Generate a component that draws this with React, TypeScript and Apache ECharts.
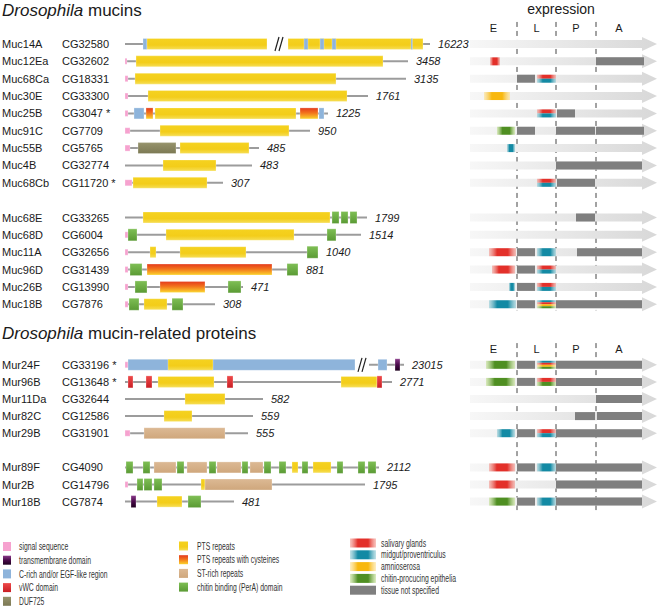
import React, { useEffect, useRef } from 'react';
import * as echarts from 'echarts';

// ---------------- Drosophila mucins ----------------
const mucinNames = ['Muc14A', 'Muc12Ea', 'Muc68Ca', 'Muc30E', 'Muc25B', 'Muc91C', 'Muc55B', 'Muc4B', 'Muc68Cb', 'Muc68E', 'Muc68D', 'Muc11A', 'Muc96D', 'Muc26B', 'Muc18B'];
const mucinIds = ['CG32580', 'CG32602', 'CG18331', 'CG33300', 'CG3047 *', 'CG7709', 'CG5765', 'CG32774', 'CG11720 *', 'CG33265', 'CG6004', 'CG32656', 'CG31439', 'CG13990', 'CG7876'];
const mucinLengths = ['16223', '3458', '3135', '1761', '1225', '950', '485', '483', '307', '1799', '1514', '1040', '881', '471', '308'];
const mucinRows = [0, 1, 2, 3, 4, 5, 6, 7, 8, 10, 11, 12, 13, 14, 15];
// [protein, start, end] backbone segments (diagram units)
const mucinLines = [
  [0, 0, 142], [0, 163, 305], [1, 0, 283], [2, 0, 281], [3, 0, 243], [4, 0, 203], [5, 0, 185], [6, 0, 134], [7, 0, 127], [8, 0, 98],
  [9, 0, 242], [10, 0, 236], [11, 0, 193], [12, 0, 173], [13, 0, 118], [14, 0, 90],
];
const mucinBreaks = [[0, 155]];
// [protein, start, end, domain]
const mucinDomains: [number, number, number, string][] = [
  [0, 18, 22, 'egf'], [0, 22, 142, 'pts'], [0, 163, 298, 'pts'], [0, 179, 183, 'egf'], [0, 195, 199, 'egf'], [0, 207, 211, 'egf'], [0, 286, 287.5, 'egf'],
  [1, 0, 2, 'sig'], [1, 11, 258, 'pts'],
  [2, 0, 3, 'sig'], [2, 10, 211, 'pts'],
  [3, 0, 3, 'sig'], [3, 23, 222, 'pts'],
  [4, 0, 3, 'sig'], [4, 9, 19, 'egf'], [4, 21, 28, 'ptsc'], [4, 30, 171, 'pts'], [4, 175, 193, 'ptsc'], [4, 194, 199, 'egf'],
  [5, 0, 5, 'sig'], [5, 35, 164, 'pts'],
  [6, 0, 5, 'sig'], [6, 13, 51, 'duf'], [6, 55, 124, 'pts'],
  [7, 38, 91, 'pts'],
  [8, 0, 7, 'sig'], [8, 8, 82, 'pts'],
  [9, 18, 205, 'pts'], [9, 207, 214, 'chitin'], [9, 216, 223, 'chitin'], [9, 225, 232, 'chitin'],
  [10, 0, 3, 'sig'], [10, 3, 12, 'chitin'], [10, 41, 169, 'pts'], [10, 202, 211, 'chitin'],
  [11, 0, 3, 'sig'], [11, 25, 31, 'pts'], [11, 55, 121, 'pts'], [11, 182, 193, 'chitin'],
  [12, 0, 3, 'sig'], [12, 5, 17, 'chitin'], [12, 22, 147, 'ptsc'], [12, 162, 173, 'chitin'],
  [13, 0, 3, 'sig'], [13, 10, 22, 'chitin'], [13, 35, 80, 'ptsc'], [13, 103, 116, 'chitin'],
  [14, 0, 3, 'sig'], [14, 4, 14, 'chitin'], [14, 19, 42, 'pts'], [14, 47, 58, 'chitin'],
];
// [protein, start, end, tissue(s)]
const mucinExpression: [number, number, number, string][] = [
  [1, 20, 30, 'red'], [1, 126, 174, 'gray'],
  [2, 47, 65, 'gray'], [2, 67, 86, 'red/teal'],
  [3, 14, 40, 'yellow'],
  [4, 67, 86, 'red/teal'], [4, 87, 105, 'gray'],
  [5, 27, 45, 'green'], [5, 47, 65, 'gray'], [5, 86, 125, 'gray'], [5, 126, 174, 'gray'],
  [6, 37, 45, 'teal'],
  [7, 86, 172, 'gray'],
  [8, 67, 86, 'red/teal'], [8, 87, 125, 'gray'],
  [9, 106, 125, 'gray'],
  [11, 19, 46, 'red'], [11, 47, 65, 'gray'], [11, 67, 86, 'teal'], [11, 107, 172, 'gray'],
  [12, 22, 45, 'red'], [12, 47, 65, 'gray'], [12, 67, 86, 'red/teal'],
  [13, 39, 45, 'teal'], [13, 47, 65, 'gray'], [13, 67, 86, 'red/teal'],
  [14, 19, 46, 'teal'], [14, 47, 65, 'gray'], [14, 67, 86, 'teal/red/yellow/green'], [14, 86, 172, 'gray'],
];

// ---------------- Drosophila mucin-related proteins ----------------
const murNames = ['Mur24F', 'Mur96B', 'Mur11Da', 'Mur82C', 'Mur29B', 'Mur89F', 'Mur2B', 'Mur18B'];
const murIds = ['CG33196 *', 'CG13648 *', 'CG32644', 'CG12586', 'CG31901', 'CG4090', 'CG14796', 'CG7874'];
const murLengths = ['23015', '2771', '582', '559', '555', '2112', '1795', '481'];
const murRows = [0, 1, 2, 3, 4, 6, 7, 8];
const murLines = [
  [0, 0, 230], [0, 244, 279], [1, 0, 267], [2, 0, 138], [3, 0, 128], [4, 0, 123], [5, 0, 254], [6, 0, 240], [7, 0, 109],
];
const murBreaks = [[0, 238]];
const murDomains: [number, number, number, string][] = [
  [0, 0, 3, 'sig'], [0, 3, 230, 'egf'], [0, 43, 88, 'pts'], [0, 253, 262, 'egf'], [0, 270, 275, 'tm'],
  [1, 3, 8, 'vwc'], [1, 21, 27, 'vwc'], [1, 33, 89, 'pts'], [1, 102, 108, 'vwc'], [1, 216, 252, 'pts'], [1, 252, 257, 'vwc'],
  [2, 60, 100, 'pts'],
  [3, 39, 67, 'pts'],
  [4, 0, 5, 'sig'], [4, 19, 100, 'st'],
  [5, 1, 8, 'chitin'], [5, 18, 25, 'chitin'], [5, 29, 51, 'st'], [5, 52, 59, 'chitin'], [5, 62, 82, 'st'], [5, 84, 91, 'chitin'], [5, 92, 116, 'st'],
  [5, 117, 123, 'chitin'], [5, 125, 138, 'st'], [5, 139, 146, 'chitin'], [5, 154, 161, 'chitin'], [5, 167, 173, 'pts'], [5, 177, 183, 'chitin'],
  [5, 188, 206, 'pts'], [5, 212, 218, 'chitin'], [5, 233, 240, 'chitin'], [5, 243, 251, 'chitin'],
  [6, 0, 3, 'sig'], [6, 12, 18, 'chitin'], [6, 19, 27, 'chitin'], [6, 29, 37, 'chitin'], [6, 76, 80, 'pts'], [6, 80, 147, 'st'],
  [7, 6, 11, 'tm'], [7, 32, 57, 'pts'], [7, 63, 76, 'chitin'],
];
const murExpression: [number, number, number, string][] = [
  [0, 16, 45, 'green'], [0, 47, 65, 'gray'], [0, 67, 86, 'teal/red/yellow/green'], [0, 86, 172, 'gray'],
  [1, 16, 45, 'green'], [1, 47, 65, 'gray'], [1, 67, 86, 'red/green'], [1, 86, 172, 'gray'],
  [2, 126, 172, 'gray'],
  [3, 105, 125, 'gray'], [3, 127, 172, 'gray'],
  [4, 27, 45, 'teal'], [4, 47, 65, 'gray'], [4, 67, 86, 'red/teal'], [4, 86, 172, 'gray'],
  [5, 19, 45, 'red'], [5, 47, 65, 'gray'], [5, 67, 86, 'teal'], [5, 86, 172, 'gray'],
  [6, 19, 45, 'red'], [6, 86, 172, 'gray'],
  [7, 19, 45, 'green'], [7, 47, 65, 'gray'], [7, 67, 86, 'teal'], [7, 86, 172, 'gray'],
];

// ---------------- Expression axis ----------------
const stageNames = ['E', 'L', 'P', 'A'];
const stageBounds = [0, 47, 86, 126, 172];
const arrowTip = 187;

// ---------------- Legends ----------------
const domainLegend = [
  ['sig', 'signal sequence'], ['tm', 'transmembrane domain'], ['egf', 'C-rich and/or EGF-like region'], ['vwc', 'vWC domain'], ['duf', 'DUF725'],
  ['pts', 'PTS repeats'], ['ptsc', 'PTS repeats with cysteines'], ['st', 'ST-rich repeats'], ['chitin', 'chitin binding (PerA) domain'],
];
const tissueLegend = [
  ['red', 'salivary glands'], ['teal', 'midgut/proventriculus'], ['yellow', 'amnioserosa'], ['green', 'chitin-procucing epithelia'], ['gray', 'tissue not specified'],
];

const SANS = "'Liberation Sans', Arial, sans-serif";

const vg = (stops: [number, string][]) =>
  new echarts.graphic.LinearGradient(0, 0, 0, 1, stops.map(([offset, color]) => ({ offset, color })));
const hg = (stops: [number, string][]) =>
  new echarts.graphic.LinearGradient(0, 0, 1, 0, stops.map(([offset, color]) => ({ offset, color })));

const domainStyles: Record<string, { h: number; fill: any }> = {
  sig: { h: 6, fill: '#f6a2cf' },
  tm: { h: 12, fill: vg([[0, '#8a3a8a'], [0.5, '#4a0a4a'], [1, '#1e001e']]) },
  egf: { h: 11, fill: '#8eb4db' },
  vwc: { h: 12, fill: vg([[0, '#ee4a4a'], [1, '#c91e24']]) },
  duf: { h: 11, fill: vg([[0, '#96936c'], [1, '#7c7954']]) },
  pts: { h: 11, fill: vg([[0, '#f5d21f'], [0.6, '#f3cd1a'], [1, '#f6de55']]) },
  ptsc: { h: 11, fill: vg([[0, '#e43a1c'], [0.45, '#f2731c'], [1, '#fbd42c']]) },
  st: { h: 11, fill: vg([[0, '#dcb994'], [1, '#cfa77c']]) },
  chitin: { h: 12, fill: vg([[0, '#7fbf55'], [1, '#5a9a34']]) },
};

const tissueColors: Record<string, [string, string]> = {
  red: ['#e3302a', 'rgba(243,150,140,0.55)'],
  teal: ['#138aa4', 'rgba(150,205,215,0.6)'],
  yellow: ['#f8b80f', 'rgba(253,226,150,0.6)'],
  green: ['#4f8f22', 'rgba(205,228,165,0.7)'],
};
const blob = (t: string) => {
  const [c, e] = tissueColors[t];
  return hg([[0, e], [0.3, c], [0.7, c], [1, e]]);
};

function panelSeries(
  names: string[], ids: string[], lengths: string[], rows: number[], lines: number[][], breaks: number[][],
  domains: [number, number, number, string][], expr: [number, number, number, string][],
  gi: number, dashTop: number, dashBottom: number,
) {
  const dAx = { xAxisIndex: gi * 2, yAxisIndex: gi * 2 };
  const eAx = { xAxisIndex: gi * 2 + 1, yAxisIndex: gi * 2 + 1 };
  const labelX = names.map((_, i) => Math.max(...lines.filter((l) => l[0] === i).map((l) => l[2])) + 8);
  const series: any[] = [];
  // backbone lines
  series.push({
    type: 'custom', ...dAx, silent: true,
    data: lines.map((l) => [l[1], l[2], rows[l[0]]]),
    encode: { x: [0, 1], y: 2 },
    renderItem: (_p: any, api: any) => {
      const a = api.coord([api.value(0), api.value(2)]);
      const b = api.coord([api.value(1), api.value(2)]);
      return { type: 'line', shape: { x1: a[0], y1: a[1], x2: b[0], y2: b[1] }, style: { stroke: '#9c9c9c', lineWidth: 2 } };
    },
  });
  // domains
  series.push({
    type: 'custom', ...dAx, silent: true,
    data: domains.map((d) => [d[1], d[2], rows[d[0]]]),
    encode: { x: [0, 1], y: 2 },
    renderItem: (p: any, api: any) => {
      const st = domainStyles[domains[p.dataIndex][3]];
      const a = api.coord([api.value(0), api.value(2)]);
      const b = api.coord([api.value(1), api.value(2)]);
      return {
        type: 'rect',
        shape: { x: a[0], y: a[1] - st.h / 2, width: Math.max(1, b[0] - a[0]), height: st.h },
        style: { fill: st.fill, stroke: 'rgba(255,255,255,0.45)', lineWidth: 0.6 },
      };
    },
  });
  // break marks
  series.push({
    type: 'custom', ...dAx, silent: true,
    data: breaks.map((b) => [b[1], rows[b[0]]]),
    encode: { x: 0, y: 1 },
    renderItem: (_p: any, api: any) => {
      const c = api.coord([api.value(0), api.value(1)]);
      const s = { stroke: '#222', lineWidth: 1.2 };
      return {
        type: 'group', children: [
          { type: 'line', shape: { x1: c[0] - 5, y1: c[1] + 7, x2: c[0] - 1, y2: c[1] - 7 }, style: s },
          { type: 'line', shape: { x1: c[0] - 1, y1: c[1] + 7, x2: c[0] + 3, y2: c[1] - 7 }, style: s },
        ],
      };
    },
  });
  // row texts
  series.push({
    type: 'custom', ...dAx, silent: true,
    data: names.map((_, i) => [labelX[i], rows[i]]),
    encode: { x: 0, y: 1 },
    renderItem: (p: any, api: any) => {
      const i = p.dataIndex;
      const c = api.coord([api.value(0), api.value(1)]);
      const base = { fontSize: 11, fontFamily: SANS, fill: '#1a1a1a', verticalAlign: 'middle', align: 'left' };
      return {
        type: 'group', children: [
          { type: 'text', x: 2, y: c[1], style: { ...base, text: names[i] } },
          { type: 'text', x: 62, y: c[1], style: { ...base, text: ids[i] } },
          { type: 'text', x: c[0], y: c[1], style: { ...base, fontStyle: 'italic', text: lengths[i] } },
        ],
      };
    },
  });
  // dashed stage dividers
  series.push({
    type: 'custom', ...eAx, silent: true,
    data: stageBounds.slice(1, 4).map((b) => [b, 0]),
    encode: { x: 0, y: 1 },
    renderItem: (_p: any, api: any) => {
      const a = api.coord([api.value(0), dashTop]);
      const b = api.coord([api.value(0), dashBottom]);
      return { type: 'line', shape: { x1: a[0], y1: a[1], x2: b[0], y2: b[1] }, style: { stroke: '#444', lineWidth: 1, lineDash: [5, 4] } };
    },
  });
  // stage labels
  series.push({
    type: 'custom', ...eAx, silent: true,
    data: stageNames.map((_, i) => [(stageBounds[i] + stageBounds[i + 1]) / 2, -0.93]),
    encode: { x: 0, y: 1 },
    renderItem: (p: any, api: any) => {
      const c = api.coord([api.value(0), api.value(1)]);
      return { type: 'text', x: c[0], y: c[1], style: { text: stageNames[p.dataIndex], fontSize: 11, fontFamily: SANS, fill: '#1a1a1a', align: 'center', verticalAlign: 'middle' } };
    },
  });
  // arrows
  series.push({
    type: 'custom', ...eAx, silent: true,
    data: rows.map((r) => [0, r]),
    encode: { x: 0, y: 1 },
    renderItem: (_p: any, api: any) => {
      const y = api.coord([0, api.value(1)])[1];
      const x0 = api.coord([stageBounds[0], 0])[0];
      const xh = api.coord([stageBounds[4], 0])[0];
      const xt = api.coord([arrowTip, 0])[0];
      return {
        type: 'polygon',
        shape: { points: [[x0, y - 4], [xh, y - 4], [xh, y - 7], [xt, y], [xh, y + 7], [xh, y + 4], [x0, y + 4]] },
        style: { fill: hg([[0, '#f7f7f7'], [1, '#d8d8d8']]) },
      };
    },
  });
  // expression bars
  series.push({
    type: 'custom', ...eAx, silent: true,
    data: expr.map((e) => [e[1], e[2], rows[e[0]]]),
    encode: { x: [0, 1], y: 2 },
    renderItem: (p: any, api: any) => {
      const kind = expr[p.dataIndex][3];
      const a = api.coord([api.value(0), api.value(2)]);
      const b = api.coord([api.value(1), api.value(2)]);
      const w = b[0] - a[0];
      if (kind === 'gray') {
        return { type: 'rect', shape: { x: a[0], y: a[1] - 4, width: w, height: 8 }, style: { fill: '#7f7f7f' } };
      }
      const parts = kind.split('/');
      const bh = 8 / parts.length;
      return {
        type: 'group',
        children: parts.map((t, k) => ({
          type: 'rect', shape: { x: a[0], y: a[1] - 4 + k * bh, width: w, height: bh }, style: { fill: blob(t) },
        })),
      };
    },
  });
  return series;
}

export default function App() {
  const ref = useRef<HTMLDivElement>(null);
  useEffect(() => {
    if (!ref.current) return;
    const chart = echarts.init(ref.current, undefined, { renderer: 'svg' });
    const mucTop = 44 - 17.35 / 2;
    const mucH = 17.35 * 16;
    const murTop = 364.8 - 17.1 / 2;
    const murH = 17.1 * 9;
    const hidden = { show: false, splitLine: { show: false } };

    const graphics: any[] = [
      { type: 'text', left: 2, top: 2, style: { text: '{i|Drosophila} mucins', fontSize: 17, fontFamily: SANS, fill: '#1a1a1a', rich: { i: { fontStyle: 'italic', fontSize: 17, fontFamily: SANS, fill: '#1a1a1a' } } } },
      { type: 'text', left: 2, top: 325, style: { text: '{i|Drosophila} mucin-related proteins', fontSize: 17, fontFamily: SANS, fill: '#1a1a1a', rich: { i: { fontStyle: 'italic', fontSize: 17, fontFamily: SANS, fill: '#1a1a1a' } } } },
      { type: 'text', x: 561, y: 9, style: { text: 'expression', fontSize: 14, fontFamily: SANS, fill: '#1a1a1a', align: 'center', verticalAlign: 'middle' } },
    ];
    const legendText = (text: string, x: number, y: number) => ({
      type: 'text', x, y, scaleX: 0.62, scaleY: 1,
      style: { text, fontSize: 11, fontFamily: SANS, fill: '#333', verticalAlign: 'middle', align: 'left' },
    });
    domainLegend.forEach(([k, label], i) => {
      const col = i < 5 ? 0 : 1;
      const r = col === 0 ? i : i - 5;
      const x = col === 0 ? 3 : 179;
      const tx = col === 0 ? 19 : 197;
      const y = (col === 0 ? 546.5 : 546) + r * 13.7;
      graphics.push({ type: 'rect', shape: { x, y: y - 4.5, width: col === 0 ? 8 : 9, height: 9 }, style: { fill: domainStyles[k].fill } });
      graphics.push(legendText(label, tx, y));
    });
    tissueLegend.forEach(([k, label], i) => {
      const y = 543 + i * 11.8;
      graphics.push({ type: 'rect', shape: { x: 350, y: y - 4.5, width: 26, height: 9 }, style: { fill: k === 'gray' ? '#7f7f7f' : blob(k) } });
      graphics.push(legendText(label, 381, y));
    });

    chart.setOption({
      animation: false,
      backgroundColor: '#ffffff',
      grid: [
        { left: 125, top: mucTop, width: 335, height: mucH },
        { left: 470, top: mucTop, width: 192, height: mucH },
        { left: 125, top: murTop, width: 335, height: murH },
        { left: 470, top: murTop, width: 192, height: murH },
      ],
      xAxis: [
        { gridIndex: 0, type: 'value', min: 0, max: 335, ...hidden },
        { gridIndex: 1, type: 'value', min: 0, max: 192, ...hidden },
        { gridIndex: 2, type: 'value', min: 0, max: 335, ...hidden },
        { gridIndex: 3, type: 'value', min: 0, max: 192, ...hidden },
      ],
      yAxis: [
        { gridIndex: 0, type: 'value', min: -0.5, max: 15.5, inverse: true, ...hidden },
        { gridIndex: 1, type: 'value', min: -0.5, max: 15.5, inverse: true, ...hidden },
        { gridIndex: 2, type: 'value', min: -0.5, max: 8.5, inverse: true, ...hidden },
        { gridIndex: 3, type: 'value', min: -0.5, max: 8.5, inverse: true, ...hidden },
      ],
      graphic: graphics,
      series: [
        ...panelSeries(mucinNames, mucinIds, mucinLengths, mucinRows, mucinLines, mucinBreaks, mucinDomains, mucinExpression, 0, -1.27, 15.35),
        ...panelSeries(murNames, murIds, murLengths, murRows, murLines, murBreaks, murDomains, murExpression, 1, -1.27, 8.63),
      ],
    });
    return () => chart.dispose();
  }, []);
  return <div ref={ref} style={{ position: 'fixed', left: 0, top: 0, width: 662, height: 608, background: '#fff' }} />;
}
